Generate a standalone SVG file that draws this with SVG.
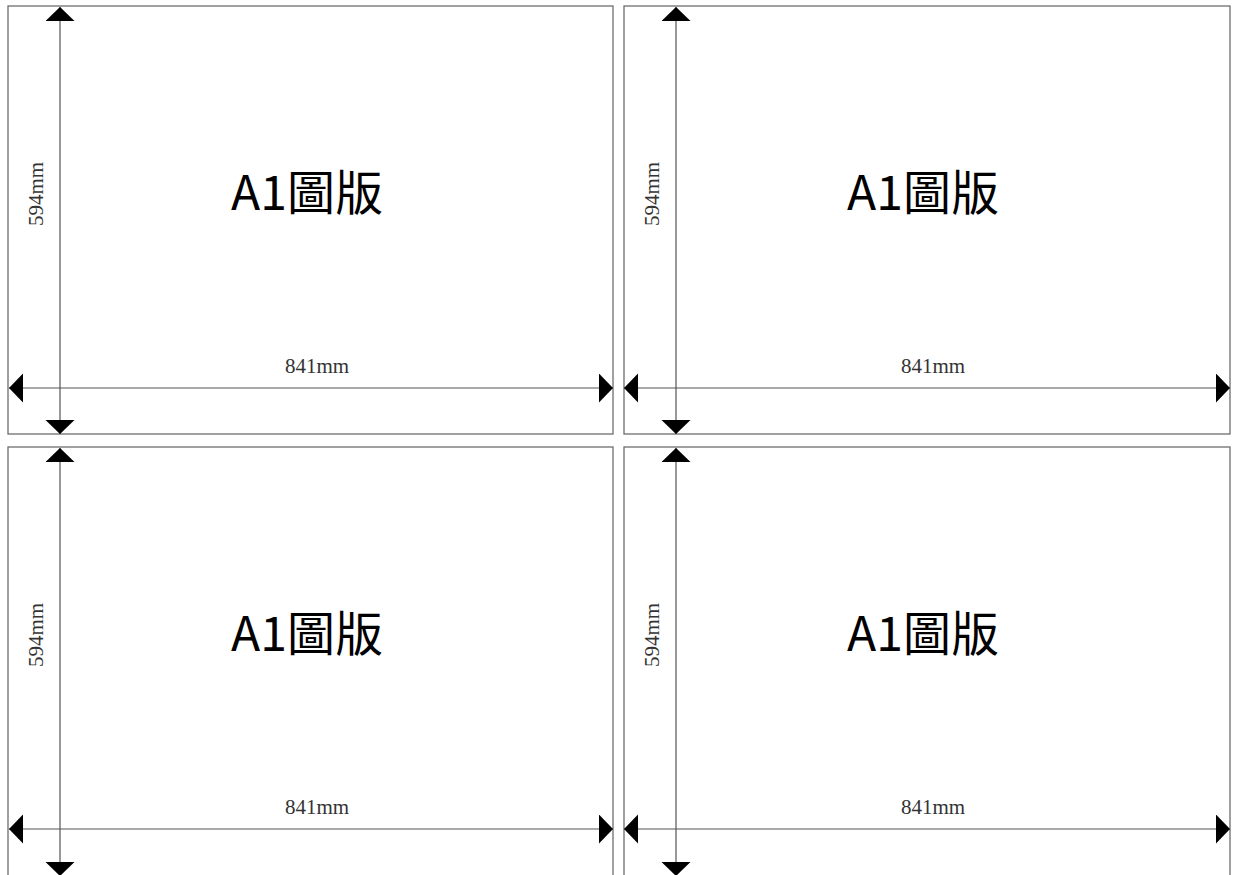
<svg xmlns="http://www.w3.org/2000/svg" width="1233" height="875" viewBox="0 0 1233 875">
<style>
.sheet{fill:#fff;stroke:#6e6e6e;stroke-width:1.3}
.dim{stroke:#555;stroke-width:1.2;fill:none;marker-start:url(#ah);marker-end:url(#ah)}
.title{font-family:"Noto Sans CJK TC","Noto Sans",sans-serif;font-size:48px;fill:#000;text-anchor:middle}
.lbl{font-family:"Liberation Serif",serif;font-size:21px;fill:#333;text-anchor:middle}
</style>
<defs>
<marker id="ah" markerUnits="userSpaceOnUse" orient="auto-start-reverse" markerWidth="15" markerHeight="30" refX="14" refY="14.5" viewBox="0 0 15 30">
<path d="M0,0 L14,14.5 L0,29 Z" fill="#000"/>
</marker>
</defs>
<rect width="1233" height="875" fill="#fff"/>
<g id="sheet-tl">
<rect class="sheet" x="8" y="6" width="605" height="428"/>
<text class="title" x="307" y="210">A1圖版</text>
<text class="lbl" x="317" y="373">841mm</text>
<text class="lbl" transform="translate(43,194) rotate(-90)">594mm</text>
</g>
<g id="sheet-tr">
<rect class="sheet" x="624" y="6" width="606" height="428"/>
<text class="title" x="923" y="210">A1圖版</text>
<text class="lbl" x="933" y="373">841mm</text>
<text class="lbl" transform="translate(659,194) rotate(-90)">594mm</text>
</g>
<g id="sheet-bl">
<rect class="sheet" x="8" y="447" width="605" height="432"/>
<text class="title" x="307" y="651">A1圖版</text>
<text class="lbl" x="317" y="814">841mm</text>
<text class="lbl" transform="translate(43,635) rotate(-90)">594mm</text>
</g>
<g id="sheet-br">
<rect class="sheet" x="624" y="447" width="606" height="432"/>
<text class="title" x="923" y="651">A1圖版</text>
<text class="lbl" x="933" y="814">841mm</text>
<text class="lbl" transform="translate(659,635) rotate(-90)">594mm</text>
</g>
<g id="connectors">
<line class="dim" x1="60" y1="7" x2="60" y2="434"/>
<line class="dim" x1="9" y1="388" x2="613" y2="388"/>
<line class="dim" x1="676" y1="7" x2="676" y2="434"/>
<line class="dim" x1="624" y1="388" x2="1230" y2="388"/>
<line class="dim" x1="60" y1="448" x2="60" y2="876"/>
<line class="dim" x1="9" y1="829" x2="613" y2="829"/>
<line class="dim" x1="676" y1="448" x2="676" y2="876"/>
<line class="dim" x1="624" y1="829" x2="1230" y2="829"/>
</g>
</svg>
